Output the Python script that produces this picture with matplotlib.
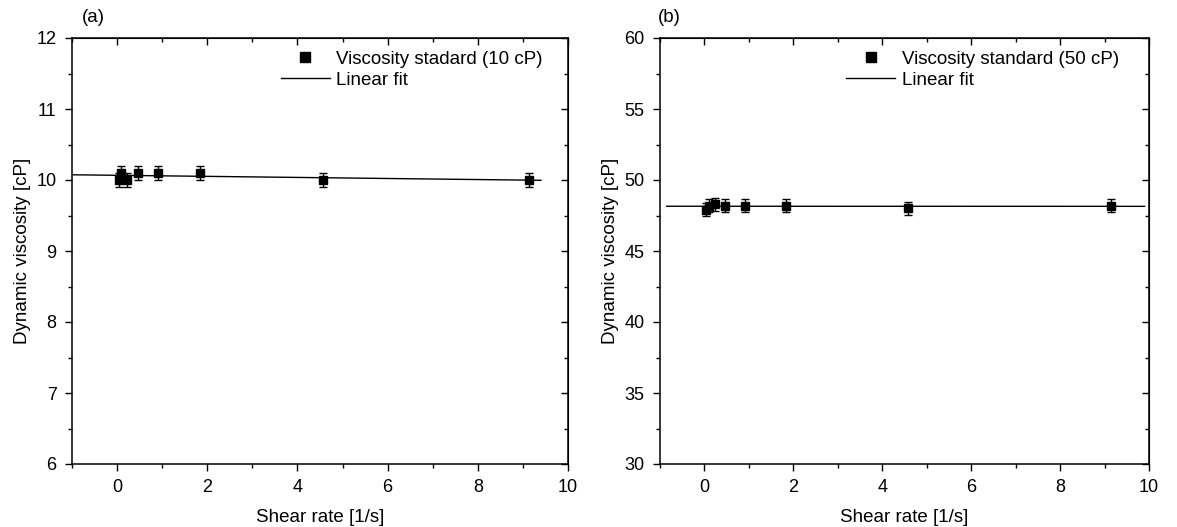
import numpy as np
import matplotlib
matplotlib.use("Agg")
import matplotlib.pyplot as plt
from matplotlib.ticker import MultipleLocator
from matplotlib.lines import Line2D

plt.rcParams["font.family"] = ["Liberation Sans", "DejaVu Sans"]

# shear rates for both standards [1/s]
shear_rate = [0.0457, 0.0914, 0.2285, 0.457, 0.914, 1.828, 4.57, 9.14]

# 10 cP standard
visc_10 = [10.0, 10.1, 10.0, 10.1, 10.1, 10.1, 10.0, 10.0]
err_10 = [0.1, 0.1, 0.1, 0.1, 0.1, 0.1, 0.1, 0.1]

# 50 cP standard
visc_50 = [47.9, 48.2, 48.3, 48.2, 48.2, 48.2, 48.0, 48.2]
err_50 = [0.45, 0.45, 0.45, 0.45, 0.45, 0.45, 0.45, 0.45]

fit_span_10 = [-1.0, 9.4]
fit_span_50 = [-0.85, 9.9]

panels = [
    dict(y=visc_10, err=err_10, span=fit_span_10, ylim=(6, 12), major=1, minor=0.5,
         label="Viscosity stadard (10 cP)", tag="(a)", tag_x=82/1177,
         rect=[72/1177, 63/527, 496/1177, 426/527], leg_x=0.421),
    dict(y=visc_50, err=err_50, span=fit_span_50, ylim=(30, 60), major=5, minor=2.5,
         label="Viscosity standard (50 cP)", tag="(b)", tag_x=658/1177,
         rect=[660/1177, 63/527, 489/1177, 426/527], leg_x=0.381),
]

fig = plt.figure(figsize=(11.77, 5.27), dpi=100)

for p in panels:
    ax = fig.add_axes(p["rect"])
    ax.errorbar(shear_rate, p["y"], yerr=p["err"], fmt="s", color="black",
                markersize=6, capsize=3, elinewidth=1, capthick=1, zorder=3)
    slope, intercept = np.polyfit(shear_rate, p["y"], 1)
    fx = np.array(p["span"])
    ax.plot(fx, intercept + slope * fx, color="black", linewidth=1.0, zorder=2)

    ax.set_xlim(-1, 10)
    ax.set_ylim(*p["ylim"])
    ax.xaxis.set_major_locator(MultipleLocator(2))
    ax.xaxis.set_minor_locator(MultipleLocator(1))
    ax.yaxis.set_major_locator(MultipleLocator(p["major"]))
    ax.yaxis.set_minor_locator(MultipleLocator(p["minor"]))
    ax.tick_params(which="major", direction="out", length=5, width=1,
                   labelsize=13, pad=6)
    ax.tick_params(which="minor", direction="out", length=3, width=1)
    for s in ax.spines.values():
        s.set_linewidth(1.1)

    top = ax.secondary_xaxis("top")
    top.xaxis.set_major_locator(MultipleLocator(2))
    top.xaxis.set_minor_locator(MultipleLocator(1))
    top.tick_params(which="major", direction="in", length=5, width=1, labeltop=False)
    top.tick_params(which="minor", direction="in", length=3, width=1)
    right = ax.secondary_yaxis("right")
    right.yaxis.set_major_locator(MultipleLocator(p["major"]))
    right.yaxis.set_minor_locator(MultipleLocator(p["minor"]))
    right.tick_params(which="major", direction="in", length=5, width=1, labelright=False)
    right.tick_params(which="minor", direction="in", length=3, width=1)

    ax.set_xlabel("Shear rate [1/s]", fontsize=13.5, labelpad=9)
    ax.set_ylabel("Dynamic viscosity [cP]", fontsize=13.5, labelpad=4)

    handles = [
        Line2D([], [], linestyle="none", marker="s", markersize=7, color="black"),
        Line2D([], [], color="black", linewidth=1.0),
    ]
    ax.legend(handles, [p["label"], "Linear fit"], loc="upper left",
              bbox_to_anchor=(p["leg_x"], 0.97), frameon=False,
              fontsize=13.5, borderpad=0, borderaxespad=0, labelspacing=0.2,
              handlelength=2.6, handletextpad=0.35)
    fig.text(p["tag_x"], 1 - 17/527, p["tag"], fontsize=13.5,
             ha="left", va="center")

fig.savefig("out.png", dpi=100)
